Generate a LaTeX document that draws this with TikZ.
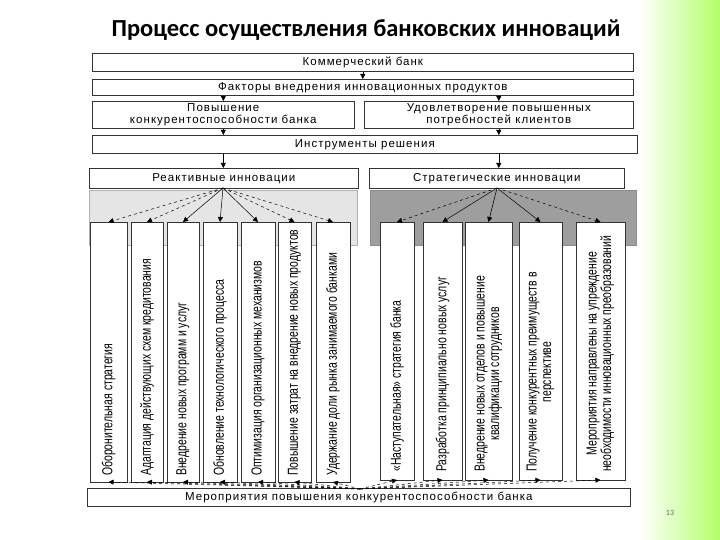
\documentclass[tikz,border=0pt]{standalone}
\usepackage{fontspec}
\setmainfont{Liberation Sans}
\newfontfamily\titlefont{Carlito}
\newfontfamily\boxf[LetterSpace=9]{Liberation Sans}
\newfontfamily\narrowf[FakeStretch=0.72]{Liberation Sans}
\usetikzlibrary{arrows.meta}
\begin{document}
\begin{tikzpicture}[x=1pt,y=-1pt,
 bx/.style={draw=black!80,line width=0.6pt,fill=white,inner sep=0pt,font=\boxf\fontsize{11.5}{11.5}\selectfont,align=center},
 col/.style={draw=black!80,line width=0.6pt,fill=white},
 ct/.style={rotate=90,font=\narrowf\fontsize{14.5}{14.5}\selectfont,align=center,inner sep=0pt},
 ar/.style={-{Triangle[length=5pt,width=5pt]},line width=0.5pt},
 da/.style={ar,dashed}]
\useasboundingbox (0,0) rectangle (720,540);
\fill[white] (0,0) rectangle (720,540);
\shade[left color=white,right color=green!50!yellow!60] (640,0) rectangle (720,540);
\node[font=\titlefont\bfseries\fontsize{24.5}{27}\selectfont] (title) at (366,30) {Процесс осуществления банковских инноваций};
\fill[white] (84,46) rectangle (642,512);
\node[bx,minimum width=541,minimum height=18,anchor=north west] (kb) at (92,53) {Коммерческий банк};
\node[bx,minimum width=541,minimum height=16,anchor=north west] (fv) at (92,79) {Факторы внедрения инновационных продуктов};
\node[bx,minimum width=262,minimum height=27,anchor=north west] (pk) at (92,101) {Повышение\\конкурентоспособности банка};
\node[bx,minimum width=269,minimum height=27,anchor=north west] (ud) at (364,101) {Удовлетворение повышенных\\потребностей клиентов};
\node[bx,minimum width=545,minimum height=18,anchor=north west] (ir) at (92,135) {Инструменты решения};
\node[bx,minimum width=269,minimum height=20,anchor=north west] (ri) at (89,168) {Реактивные инновации};
\node[bx,minimum width=255,minimum height=20,anchor=north west] (si) at (369,168) {Стратегические инновации};
\fill[black!10,draw=black!30] (89,190) rectangle (357,245);
\fill[black!38,draw=black!45] (370,190) rectangle (636,245);
\foreach \n/\a/\b/\t in {l1/90/127/{Оборонительная стратегия},
 l2/131/163/{Адаптация действующих схем кредитования},
 l3/167/199/{Внедрение новых программ и услуг},
 l4/203/237/{Обновление технологического процесса},
 l5/241/275/{Оптимизация организационных механизмов},
 l6/278/311/{Повышение затрат на внедрение новых продуктов},
 l7/316/350/{Удержание доли рынка занимаемого банками}}{
 \draw[col] (\a,222) rectangle (\b,482);
 \coordinate (\n t) at ({(\a+\b)/2},222);
 \coordinate (\n b) at ({(\a+\b)/2},482);
 \node[ct,anchor=west] (\n) at ({(\a+\b)/2},476) {\t};}
\foreach \n/\a/\b/\t in {r1/380/414/{«Наступательная» стратегия банка},
 r2/423/462/{Разработка принципиально новых услуг},
 r3/465/512/{Внедрение новых отделов и повышение\\квалификации сотрудников},
 r4/519/562/{Получение конкурентных преимуществ в\\перспективе},
 r5/576/625/{Мероприятия направлены на упреждение\\необходимости инновационных преобразований}}{
 \draw[col] (\a,222) rectangle (\b,480);
 \coordinate (\n t) at ({(\a+\b)/2},222);
 \coordinate (\n b) at ({(\a+\b)/2},480);
 \node[ct,anchor=west] (\n) at ({(\a+\b)/2},472) {\t};}
\node[bx,minimum width=543,minimum height=18,anchor=north west] (mp) at (87,488) {Мероприятия повышения конкурентоспособности банка};
\node[font=\titlefont\fontsize{8}{9}\selectfont,text=black!60] (pg) at (670,513) {13};
\draw[ar] (kb.south) -- (fv.north);
\draw[ar] (fv.south -| pk.north) -- (pk.north);
\draw[ar] (fv.south -| ud.north) -- (ud.north);
\draw[ar] (pk.south) -- (pk.south |- ir.north);
\draw[ar] (ud.south) -- (ud.south |- ir.north);
\draw[ar] (ir.south -| pk.south) -- (ri.north -| pk.south);
\draw[ar] (ir.south -| ud.south) -- (si.north -| ud.south);
\coordinate (rif) at (223,188);
\coordinate (sif) at (497,188);
\draw[da] (rif) -- (l1t); \draw[da] (rif) -- (l2t);
\foreach \n in {l3,l4,l5}{\draw[ar] (rif) -- (\n t);}
\draw[da] (rif) -- (l6t); \draw[da] (rif) -- (l7t);
\draw[da] (sif) -- (r1t); \draw[da] (sif) -- (r5t);
\foreach \n in {r2,r3,r4}{\draw[ar] (sif) -- (\n t);}
\coordinate (mpc) at (360,489);
\foreach \n in {l1,l2,l3,l4,l5,l6,l7,r1,r2,r3,r4,r5}{\draw[da] (mpc) -- (\n b);}
\end{tikzpicture}
\end{document}
